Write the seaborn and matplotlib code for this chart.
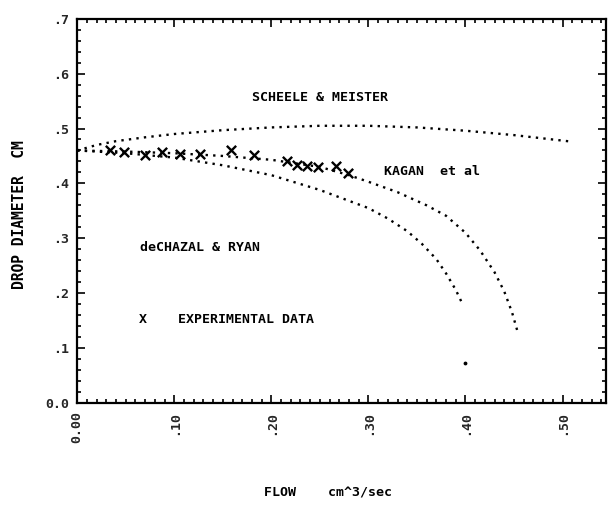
import numpy as np
import pandas as pd
import seaborn as sns
import matplotlib
import matplotlib.pyplot as plt
from matplotlib.ticker import MultipleLocator, FixedLocator

matplotlib.use("agg")

# curve values
scheele_x = [0.0, 0.02, 0.04, 0.07, 0.10, 0.15, 0.20, 0.25, 0.30, 0.35, 0.40, 0.45, 0.51]
scheele_y = [0.460, 0.470, 0.477, 0.484, 0.490, 0.497, 0.502, 0.505, 0.505, 0.502, 0.496, 0.488, 0.476]

kagan_x = [0.0, 0.05, 0.10, 0.15, 0.20, 0.25, 0.28, 0.30, 0.33, 0.36, 0.38, 0.40, 0.415, 0.43, 0.44, 0.448, 0.454]
kagan_y = [0.460, 0.458, 0.455, 0.450, 0.443, 0.430, 0.415, 0.403, 0.384, 0.360, 0.341, 0.310, 0.278, 0.238, 0.203, 0.165, 0.128]

chazal_x = [0.0, 0.05, 0.10, 0.15, 0.20, 0.25, 0.30, 0.32, 0.34, 0.355, 0.37, 0.38, 0.39, 0.397]
chazal_y = [0.460, 0.455, 0.447, 0.433, 0.415, 0.388, 0.355, 0.336, 0.313, 0.290, 0.262, 0.236, 0.206, 0.180]
chazal_tail_x = [0.400]
chazal_tail_y = [0.072]

exp_x = [0.034, 0.048, 0.070, 0.087, 0.106, 0.127, 0.158, 0.182, 0.216, 0.226, 0.237, 0.248, 0.267, 0.279]
exp_y = [0.460, 0.458, 0.452, 0.458, 0.454, 0.454, 0.460, 0.452, 0.441, 0.434, 0.432, 0.430, 0.432, 0.419]

x_ticks = [0.0, 0.1, 0.2, 0.3, 0.4, 0.5]
x_labels = ["0.00", ".10", ".20", ".30", ".40", ".50"]
y_ticks = [0.0, 0.1, 0.2, 0.3, 0.4, 0.5, 0.6, 0.7]
y_labels = ["0.0", ".1", ".2", ".3", ".4", ".5", ".6", ".7"]

sns.set_theme(style="ticks")
plt.rcParams["font.family"] = ["DejaVu Sans Mono"]
plt.rcParams["font.weight"] = "bold"

fig = plt.figure(figsize=(6.08, 5.08), dpi=100)
ax = fig.add_axes([0.127, 0.207, 0.870, 0.756])

curves = pd.concat([
    pd.DataFrame({"x": scheele_x, "y": scheele_y, "src": "scheele"}),
    pd.DataFrame({"x": kagan_x, "y": kagan_y, "src": "kagan"}),
    pd.DataFrame({"x": chazal_x, "y": chazal_y, "src": "chazal"}),
])
for name, grp in curves.groupby("src"):
    sns.lineplot(data=grp, x="x", y="y", ax=ax, color="black", linestyle=(0, (1, 2.2)),
                 linewidth=1.7, sort=False, estimator=None)
ax.plot(chazal_tail_x, chazal_tail_y, ".", color="black", markersize=3.5)

sns.scatterplot(x=exp_x, y=exp_y, ax=ax, marker="x", color="black", s=45, linewidth=1.7)

txt = dict(fontsize=9.5, fontweight="bold", color="black")
ax.text(0.25, 0.556, "SCHEELE & MEISTER", ha="center", va="center", **txt)
ax.text(0.366, 0.421, "KAGAN  et al", ha="center", va="center", **txt)
ax.text(0.127, 0.283, "deCHAZAL & RYAN", ha="center", va="center", **txt)
ax.text(0.068, 0.151, "X", ha="center", va="center", **txt)
ax.text(0.104, 0.151, "EXPERIMENTAL DATA", ha="left", va="center", **txt)

ax.set_xlim(0, 0.545)
ax.set_ylim(0, 0.7)
ax.xaxis.set_major_locator(FixedLocator(x_ticks))
ax.set_xticklabels(x_labels, rotation=90, fontsize=9.5, fontweight="bold")
ax.yaxis.set_major_locator(FixedLocator(y_ticks))
ax.set_yticklabels(y_labels, fontsize=9.5, fontweight="bold")
ax.xaxis.set_minor_locator(MultipleLocator(0.01))
ax.yaxis.set_minor_locator(MultipleLocator(0.02))
ax.tick_params(which="both", direction="in", top=True, right=True, color="black", width=1.2)
ax.tick_params(which="major", length=6, pad=6)
ax.tick_params(which="minor", length=3)
for s in ax.spines.values():
    s.set_linewidth(1.6)
    s.set_color("black")

ax.set_xlabel("")
ax.set_ylabel("")
fig.text(0.032, 0.577, "DROP DIAMETER  CM", rotation=90, ha="center", va="center",
         fontsize=10.5, fontweight="bold", color="black")
fig.text(0.54, 0.03, "FLOW    cm^3/sec", ha="center", va="center", **txt)

fig.savefig("out.png", dpi=100)
